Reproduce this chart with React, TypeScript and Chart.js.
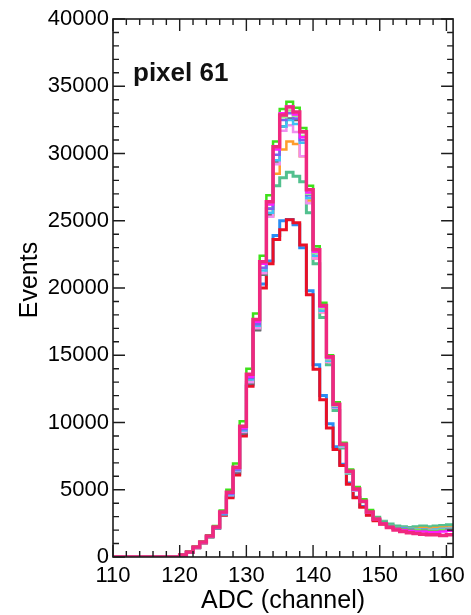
import { useEffect, useRef } from 'react';
import { Chart, registerables } from 'chart.js';

Chart.register(...registerables);

const X_MIN = 110;
const X_MAX = 161;
const Y_MIN = 0;
const Y_MAX = 40000;
const X_TICKS = [110, 120, 130, 140, 150, 160];
const Y_TICKS = [0, 5000, 10000, 15000, 20000, 25000, 30000, 35000, 40000];
const X_MINOR_STEP = 2;
const Y_MINOR_STEP = 1000;

// bin left edges: 110 ... 160 (width 1 channel)
const BINS = [
  110, 111, 112, 113, 114, 115, 116, 117, 118, 119,
  120, 121, 122, 123, 124, 125, 126, 127, 128, 129,
  130, 131, 132, 133, 134, 135, 136, 137, 138, 139,
  140, 141, 142, 143, 144, 145, 146, 147, 148, 149,
  150, 151, 152, 153, 154, 155, 156, 157, 158, 159, 160,
];

const Z = [0, 0, 0, 0, 0, 0, 0, 0, 0, 0];

const pink = [...Z,
  150, 370, 740, 1110, 1560, 2230,
  3340, 4820, 6680, 9720, 13580, 17660, 21960, 26420, 30500, 32870,
  33460, 33090, 31610, 27300, 22850, 18700, 14880, 11350, 8380, 6380,
  5050, 4150, 3340, 2800, 2450, 2200, 2000, 1900, 1800, 1750,
  1700, 1650, 1650, 1600, 1650];

const lime = [...Z,
  170, 400, 780, 1160, 1620, 2310,
  3450, 5000, 6950, 10100, 14000, 18100, 22400, 26900, 30900, 33300,
  33850, 33400, 31900, 27600, 23100, 18900, 15000, 11500, 8500, 6500,
  5200, 4300, 3500, 2900, 2550, 2300, 2150, 2050, 2000, 1950,
  1950, 1900, 1900, 1950, 2000];

const magenta = [...Z,
  140, 360, 720, 1090, 1540, 2200,
  3300, 4750, 6600, 9600, 13400, 17500, 21800, 26200, 30300, 33000,
  33500, 32900, 31200, 27100, 22700, 18600, 14800, 11300, 8350, 6350,
  5000, 4100, 3300, 2850, 2500, 2250, 2100, 2000, 1950, 1900,
  1900, 1850, 1850, 1900, 1950];

const purple = [...Z,
  140, 350, 710, 1080, 1520, 2180,
  3250, 4700, 6500, 9500, 13300, 17300, 21500, 25900, 29900, 32500,
  33000, 32600, 31000, 26900, 22600, 18500, 14700, 11200, 8300, 6300,
  5000, 4150, 3350, 2850, 2550, 2300, 2150, 2100, 2050, 2000,
  2000, 1950, 1950, 2000, 2050];

const cyan = [...Z,
  130, 340, 700, 1060, 1500, 2150,
  3200, 4650, 6450, 9400, 13200, 17200, 21300, 25600, 29500, 32000,
  32500, 32200, 30800, 26700, 22400, 18300, 14600, 11150, 8250, 6300,
  5000, 4150, 3350, 2900, 2600, 2350, 2200, 2150, 2100, 2050,
  2050, 2000, 2050, 2100, 2100];

const violet = [...Z,
  130, 340, 690, 1050, 1500, 2150,
  3200, 4600, 6400, 9300, 13000, 17000, 21100, 25300, 29200, 31700,
  32100, 31600, 29800, 26300, 22200, 18200, 14500, 11100, 8200, 6250,
  4950, 4100, 3300, 2850, 2550, 2300, 2150, 2100, 2050, 2050,
  2000, 2000, 2000, 2050, 2100];

const gray = [...Z,
  130, 330, 680, 1040, 1480, 2120,
  3150, 4550, 6300, 9200, 12900, 16900, 21000, 25400, 29400, 32000,
  32600, 32500, 31600, 27300, 22900, 18700, 14900, 11400, 8450, 6450,
  5100, 4200, 3400, 2900, 2550, 2300, 2150, 2050, 2000, 1950,
  1950, 1950, 1900, 1950, 2000];

const lightGreen = [...Z,
  150, 360, 730, 1100, 1550, 2220,
  3300, 4800, 6650, 9650, 13500, 17600, 21900, 26300, 30400, 32700,
  33200, 32800, 31300, 27000, 22600, 18500, 14700, 11250, 8300, 6300,
  5000, 4100, 3300, 2850, 2500, 2300, 2150, 2050, 2000, 2000,
  1950, 1950, 1950, 2000, 2000];

const orange = [...Z,
  140, 350, 710, 1080, 1520, 2180,
  3250, 4700, 6500, 9400, 13100, 17000, 21100, 25300, 28500, 30300,
  30900, 30700, 29800, 26500, 22200, 18200, 14500, 11100, 8300, 6300,
  5000, 4150, 3350, 2900, 2600, 2350, 2200, 2150, 2100, 2100,
  2150, 2100, 2150, 2200, 2200];

const teal = [...Z,
  140, 350, 700, 1070, 1510, 2160,
  3200, 4600, 6400, 9300, 13000, 16900, 21000, 25900, 27600, 28200,
  28600, 28300, 27900, 25600, 21800, 17800, 14300, 10900, 8100, 6200,
  4950, 4100, 3300, 2950, 2650, 2450, 2300, 2250, 2200, 2250,
  2300, 2250, 2300, 2350, 2400];

const blue = [...Z,
  130, 340, 690, 1060, 1500, 2150,
  3150, 4500, 6200, 9100, 12800, 16900, 20300, 22000, 23900, 25000,
  25100, 24700, 23000, 19800, 14300, 12000, 9900, 8200, 6900, 5500,
  4450, 3750, 3150, 2750, 2500, 2300, 2150, 2100, 2050, 2050,
  2050, 2050, 2050, 2100, 2150];

const red = [...Z,
  130, 340, 690, 1050, 1500, 2130,
  3100, 4400, 6100, 9000, 12700, 16900, 20000, 21800, 23600, 24340,
  25080, 24860, 23200, 19500, 13950, 11700, 9600, 8000, 6800, 5400,
  4400, 3700, 3100, 2700, 2450, 2250, 2100, 2050, 2000, 2000,
  2000, 2050, 2000, 2050, 2100];

// first = drawn on top
const SERIES = [
  { name: 'pink', values: pink, color: '#f0287f', width: 3.5 },
  { name: 'magenta', values: magenta, color: '#ff1cff', width: 2.5 },
  { name: 'lime', values: lime, color: '#3ee01a', width: 2.5 },
  { name: 'lightGreen', values: lightGreen, color: '#9aeb8c', width: 2.5 },
  { name: 'purple', values: purple, color: '#7a62f0', width: 2.5 },
  { name: 'cyan', values: cyan, color: '#3cc4f4', width: 2.5 },
  { name: 'violet', values: violet, color: '#f08ef0', width: 2.5 },
  { name: 'gray', values: gray, color: '#6a6a6a', width: 2.5 },
  { name: 'orange', values: orange, color: '#ff9c2c', width: 2.5 },
  { name: 'teal', values: teal, color: '#52c08e', width: 3 },
  { name: 'red', values: red, color: '#ea1026', width: 3 },
  { name: 'blue', values: blue, color: '#2a8cf4', width: 3 },
];

const FONT = '"Liberation Sans", Arial, Helvetica, sans-serif';
const LABEL = 'pixel 61';
const X_TITLE = 'ADC (channel)';
const Y_TITLE = 'Events';

const framePlugin = {
  id: 'rootFrame',
  afterDatasetsDraw(chart: any) {
    const { ctx, chartArea: a, scales } = chart;
    const xs = scales.x;
    const ys = scales.y;
    ctx.save();
    ctx.strokeStyle = '#1c1c1c';
    ctx.lineWidth = 1.6;
    ctx.strokeRect(a.left, a.top, a.right - a.left, a.bottom - a.top);
    const MAJ = 12;
    const MIN = 6;
    ctx.lineWidth = 1.4;
    ctx.beginPath();
    for (let v = X_MIN; v <= X_MAX + 1e-9; v += X_MINOR_STEP) {
      const px = xs.getPixelForValue(v);
      const len = X_TICKS.includes(v) ? MAJ : MIN;
      ctx.moveTo(px, a.bottom);
      ctx.lineTo(px, a.bottom - len);
      ctx.moveTo(px, a.top);
      ctx.lineTo(px, a.top + len);
    }
    for (let v = Y_MIN; v <= Y_MAX + 1e-9; v += Y_MINOR_STEP) {
      const py = ys.getPixelForValue(v);
      const len = Y_TICKS.includes(v) ? MAJ : MIN;
      ctx.moveTo(a.left, py);
      ctx.lineTo(a.left + len, py);
      ctx.moveTo(a.right, py);
      ctx.lineTo(a.right - len, py);
    }
    ctx.stroke();
    ctx.fillStyle = '#111';
    ctx.font = 'bold 26px ' + FONT;
    ctx.textAlign = 'left';
    ctx.textBaseline = 'alphabetic';
    ctx.fillText(LABEL, a.left + 20, a.top + 62);
    // y axis title
    ctx.fillStyle = '#000';
    ctx.font = '25px ' + FONT;
    ctx.textAlign = 'center';
    ctx.textBaseline = 'middle';
    ctx.translate(30, (a.top + a.bottom) / 2 - 8);
    ctx.rotate(-Math.PI / 2);
    ctx.fillText(Y_TITLE, 0, 0);
    ctx.restore();
  },
};

export default function App() {
  const ref = useRef<HTMLCanvasElement | null>(null);
  useEffect(() => {
    if (!ref.current) return;
    const datasets = SERIES.map((s) => ({
      label: s.name,
      data: [
        ...BINS.map((b, i) => ({ x: b, y: s.values[i] })),
        { x: BINS[BINS.length - 1] + 1, y: s.values[s.values.length - 1] },
      ],
      borderColor: s.color,
      borderWidth: s.width,
      backgroundColor: s.color,
      stepped: 'before' as const,
      pointRadius: 0,
      fill: false,
      tension: 0,
    }));
    const chart = new Chart(ref.current, {
      type: 'line',
      data: { datasets },
      options: {
        responsive: false,
        maintainAspectRatio: false,
        animation: false,
        devicePixelRatio: 1,
        layout: { padding: { top: 19, right: 11, left: 0, bottom: 0 } },
        plugins: { legend: { display: false }, tooltip: { enabled: false } },
        scales: {
          x: {
            type: 'linear',
            min: X_MIN,
            max: X_MAX,
            afterFit: (s: any) => { s.height = 58; },
            afterBuildTicks: (s: any) => { s.ticks = X_TICKS.map((v) => ({ value: v })); },
            grid: { display: false, drawTicks: false },
            border: { display: false },
            ticks: {
              autoSkip: false,
              maxRotation: 0,
              padding: 6,
              color: '#000',
              font: { family: FONT, size: 22 },
              callback: (v: any) => String(v),
            },
            title: {
              display: true,
              text: X_TITLE,
              color: '#000',
              font: { family: FONT, size: 25 },
              padding: { top: 0, bottom: -1 },
            },
          },
          y: {
            type: 'linear',
            min: Y_MIN,
            max: Y_MAX,
            afterFit: (s: any) => { s.width = 113; },
            afterBuildTicks: (s: any) => { s.ticks = Y_TICKS.map((v) => ({ value: v })); },
            grid: { display: false, drawTicks: false },
            border: { display: false },
            ticks: {
              autoSkip: false,
              padding: 4,
              color: '#000',
              font: { family: FONT, size: 22 },
              callback: (v: any) => String(v),
            },
            title: { display: false },
          },
        },
      },
      plugins: [framePlugin],
    });
    return () => chart.destroy();
  }, []);
  return (
    <div style={{ position: 'absolute', left: 0, top: 0, width: 471, height: 615 }}>
      <canvas ref={ref} width={471} height={615} style={{ display: 'block' }} />
    </div>
  );
}
